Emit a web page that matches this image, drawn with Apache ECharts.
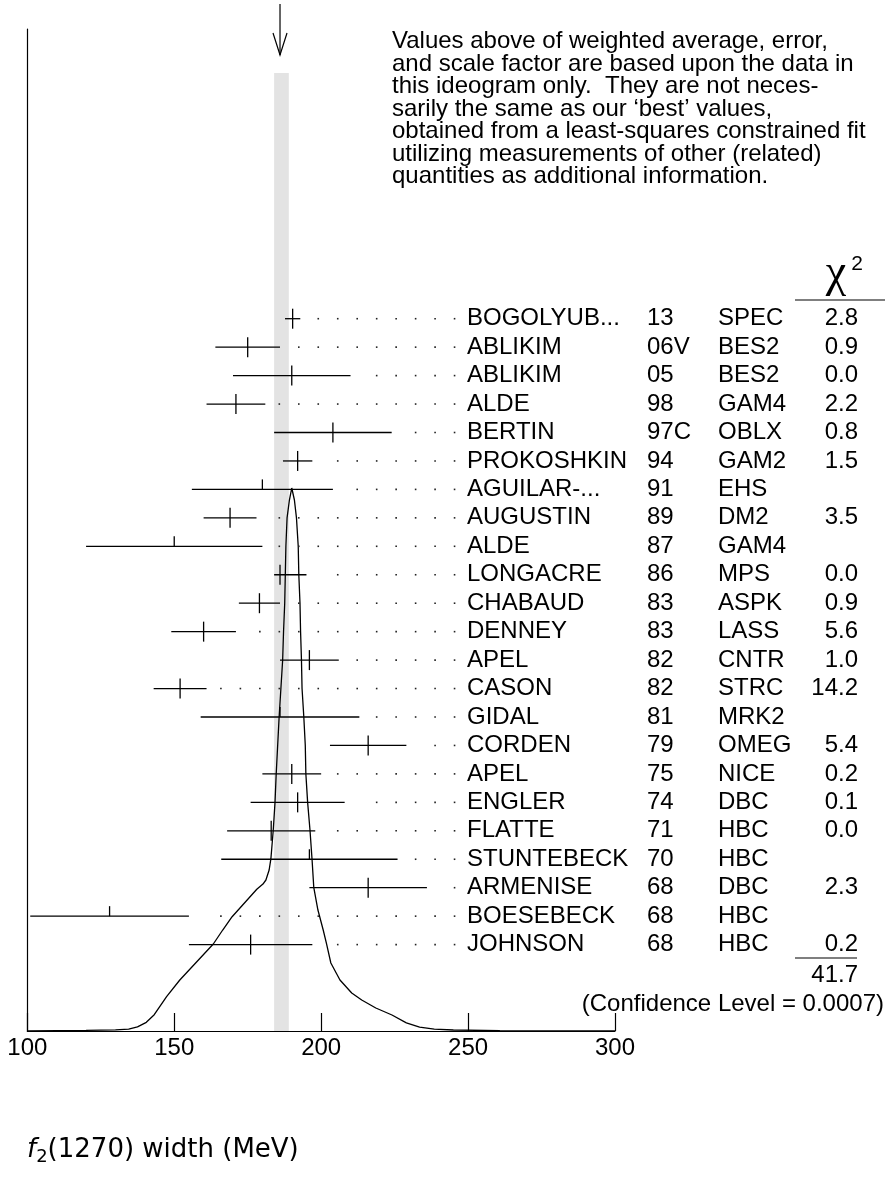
<!DOCTYPE html>
<html>
<head>
<meta charset="utf-8">
<script src="https://cdn.jsdelivr.net/npm/echarts@6/dist/echarts.min.js"></script>
<style>
html,body{margin:0;padding:0;background:#fff;}
#chart{width:886px;height:1184px;}
</style>
</head>
<body>
<div id="chart"></div>
<script>
// ---- data ----
const authors = ['BOGOLYUB...','ABLIKIM','ABLIKIM','ALDE','BERTIN','PROKOSHKIN','AGUILAR-...','AUGUSTIN','ALDE','LONGACRE','CHABAUD','DENNEY','APEL','CASON','GIDAL','CORDEN','APEL','ENGLER','FLATTE','STUNTEBECK','ARMENISE','BOESEBECK','JOHNSON'];
const years = ['13','06V','05','98','97C','94','91','89','87','86','83','83','82','82','81','79','75','74','71','70','68','68','68'];
const techniques = ['SPEC','BES2','BES2','GAM4','OBLX','GAM2','EHS','DM2','GAM4','MPS','ASPK','LASS','CNTR','STRC','MRK2','OMEG','NICE','DBC','HBC','HBC','DBC','HBC','HBC'];
const widths = [190.3, 175, 190, 171, 204, 192, 180, 169, 150, 186, 179, 160, 196, 152, 186, 216, 190, 192, 183, 196, 216, 128, 176];
const errMinus = [2.6, 11, 20, 10, 20, 5, 24, 9, 30, 2, 7, 11, 10, 9, 27, 13, 10, 16, 15, 30, 20, 27, 21];
const errPlus  = [2.6, 11, 20, 10, 20, 5, 24, 9, 30, 9, 7, 11, 10, 9, 27, 13, 10, 16, 15, 30, 20, 27, 21];
const chi2 = ['2.8','0.9','0.0','2.2','0.8','1.5','','3.5','','0.0','0.9','5.6','1.0','14.2','','5.4','0.2','0.1','0.0','','2.3','','0.2'];
const chi2Total = '41.7';
const confidenceLevel = '0.0007';
const weightedAverage = 186.0;
const averageBand = [184.0, 189.0];
const xTicks = [100, 150, 200, 250, 300];
// ideogram curve: [width (MeV), relative height]
const ideogram = [
  [100,0],[110,0.0006],[120,0.0012],[130,0.0022],[134.5,0.0035],[137.5,0.0075],[140.5,0.016],[143.2,0.030],
  [147.4,0.0632],[151.9,0.0939],[163.3,0.1602],[166.5,0.1860],[169.7,0.2105],[178.1,0.2610],[180.2,0.2707],[181.2,0.2781],
  [182.3,0.2965],[182.9,0.3173],[183.7,0.3702],[184.3,0.4210],[184.7,0.4733],[185.2,0.5258],[185.7,0.5783],
  [186.3,0.6306],[186.9,0.6832],[187.2,0.7354],[187.6,0.7878],[187.8,0.8401],[188.0,0.8926],[188.4,0.9449],
  [189.2,0.9779],[190.0,1.0],[190.9,0.9779],[191.6,0.9449],[192.2,0.8926],[192.4,0.8401],[192.8,0.7878],
  [193.0,0.7354],[193.3,0.6832],[193.5,0.6306],[194.1,0.5783],[194.6,0.5258],[194.8,0.4733],[195.4,0.4210],
  [196.2,0.3702],[196.9,0.3162],[197.5,0.2639],[198.9,0.2228],[200.7,0.1860],[201.8,0.1615],[203.3,0.1252],
  [206.4,0.0939],[210.4,0.0700],[213.8,0.0571],[218.6,0.0424],[224.1,0.0295],[229.0,0.0150],[233.5,0.0070],
  [238.5,0.0035],[245.0,0.0018],[260.8,0.0006],[300,0]
];
const noteLines = [
  'Values above of weighted average, error,',
  'and scale factor are based upon the data in',
  'this ideogram only.  They are not neces-',
  'sarily the same as our ‘best’ values,',
  'obtained from a least-squares constrained fit',
  'utilizing measurements of other (related)',
  'quantities as additional information.'
];

// ---- layout ----
const FONT = 'Liberation Sans, Arial, sans-serif';
const BLACK = '#000';
const gridTop = 29, gridBottomPx = 1031;
const rowY0 = 318.7, rowStep = 28.45;
const rowMin = (gridTop - rowY0) / rowStep;
const rowMax = (gridBottomPx - rowY0) / rowStep;
const curveMax = (gridBottomPx - gridTop) / 543;
const dotStart = 245.4, dotStep = 6.626, dotGap = 4.4;
const colYear = 647, colTech = 718, colChi = 858, colName = 467;

const barData = widths.map((v, i) => [v, v - errMinus[i], v + errPlus[i], i, chi2[i] === '' ? 0 : 1]);

function txt(text, x, y, align, size) {
  return { type: 'text', style: { text: text, x: x, y: y, fill: BLACK, fontSize: size || 24, fontFamily: FONT,
    align: align || 'left', verticalAlign: 'middle', textAlign: align || 'left', textVerticalAlign: 'middle' } };
}

function renderBar(params, api) {
  const v = api.value(0), lo = api.value(1), hi = api.value(2), row = api.value(3), used = api.value(4);
  const c = api.coord([v, row]);
  const l = api.coord([lo, row]);
  const h = api.coord([hi, row]);
  const y = c[1];
  const ls = { stroke: BLACK, lineWidth: 1.3 };
  const children = [
    { type: 'line', shape: { x1: l[0], y1: y, x2: h[0], y2: y }, style: ls },
    { type: 'line', shape: { x1: c[0], y1: y - 10, x2: c[0], y2: used ? y + 10 : y }, style: ls }
  ];
  for (let k = 0; ; k++) {
    const d = dotStart - k * dotStep;
    if (d < 100) break;
    if (d - hi <= dotGap) break;
    const p = api.coord([d, row]);
    children.push({ type: 'rect', shape: { x: p[0] - 0.8, y: y - 0.8, width: 1.6, height: 1.6 }, style: { fill: '#222' } });
  }
  const i = row;
  children.push(txt(authors[i], colName, y));
  children.push(txt(years[i], colYear, y));
  children.push(txt(techniques[i], colTech, y));
  if (chi2[i] !== '') children.push(txt(chi2[i], colChi, y, 'right'));
  return { type: 'group', children: children };
}

function renderBand(params, api) {
  const a = api.coord([api.value(0), 0]);
  const b = api.coord([api.value(1), 0]);
  const m = api.coord([api.value(2), 0]);
  const top = params.coordSys.y + 44;
  const bottom = params.coordSys.y + params.coordSys.height;
  const ls = { stroke: BLACK, lineWidth: 1.2 };
  return { type: 'group', children: [
    { type: 'rect', shape: { x: a[0], y: top, width: b[0] - a[0], height: bottom - top }, style: { fill: '#e3e3e3' } },
    { type: 'line', shape: { x1: m[0], y1: 4, x2: m[0], y2: 55 }, style: ls },
    { type: 'polyline', shape: { points: [[m[0] - 7, 33], [m[0], 55], [m[0] + 7, 33]] }, style: { stroke: BLACK, lineWidth: 1.2, fill: null } }
  ] };
}

const chart = echarts.init(document.getElementById('chart'), null, { renderer: 'canvas' });
const option = {
  animation: false,
  backgroundColor: '#fff',
  grid: { left: 27.3, right: 886 - 615, top: gridTop, bottom: 1184 - gridBottomPx },
  xAxis: {
    type: 'value', min: xTicks[0], max: xTicks[xTicks.length - 1], interval: xTicks[1] - xTicks[0],
    axisLine: { show: true, onZero: false, lineStyle: { color: BLACK, width: 1.2 } },
    axisTick: { show: true, inside: true, length: 18, lineStyle: { color: BLACK, width: 1.2 } },
    axisLabel: { color: BLACK, fontSize: 24, fontFamily: FONT, margin: 5, showMinLabel: true, showMaxLabel: true },
    splitLine: { show: false }
  },
  yAxis: [
    { type: 'value', inverse: true, min: rowMin, max: rowMax,
      axisLine: { show: true, onZero: false, lineStyle: { color: BLACK, width: 1.2 } },
      axisTick: { show: false }, axisLabel: { show: false }, splitLine: { show: false } },
    { type: 'value', min: 0, max: curveMax, show: false, splitLine: { show: false } }
  ],
  series: [
    { type: 'custom', name: 'average', renderItem: renderBand, clip: false, z: 1,
      data: [[averageBand[0], averageBand[1], weightedAverage]], xAxisIndex: 0, yAxisIndex: 0 },
    { type: 'line', name: 'ideogram', data: ideogram, yAxisIndex: 1, showSymbol: false, symbol: 'none',
      lineStyle: { color: BLACK, width: 1.3 }, z: 3, silent: true },
    { type: 'custom', name: 'measurements', renderItem: renderBar, clip: false, z: 4,
      data: barData, xAxisIndex: 0, yAxisIndex: 0 }
  ],
  graphic: [
    { type: 'text', x: 392, y: 30.5, style: { text: noteLines.join('\n'), fill: BLACK, fontSize: 24, fontFamily: FONT, lineHeight: 22.5 } },
    { type: 'text', x: 836, y: 274, style: { text: 'χ', fill: BLACK, fontSize: 46, fontFamily: 'Liberation Serif, DejaVu Serif, serif', align: 'center', verticalAlign: 'middle' } },
    { type: 'text', x: 857, y: 264, style: { text: '2', fill: BLACK, fontSize: 21, fontFamily: FONT, align: 'center', verticalAlign: 'middle' } },
    { type: 'line', shape: { x1: 795, y1: 300, x2: 885, y2: 300 }, style: { stroke: BLACK, lineWidth: 1.2 } },
    { type: 'line', shape: { x1: 795, y1: 958, x2: 857, y2: 958 }, style: { stroke: BLACK, lineWidth: 1.2 } },
    { type: 'text', x: colChi, y: 975, style: { text: chi2Total, fill: BLACK, fontSize: 24, fontFamily: FONT, align: 'right', verticalAlign: 'middle' } },
    { type: 'text', x: 884, y: 1004, style: { text: '(Confidence Level = ' + confidenceLevel + ')', fill: BLACK, fontSize: 24, fontFamily: FONT, align: 'right', verticalAlign: 'middle' } },
    { type: 'text', x: 27, y: 1150, style: {
        text: '{i|f}{s|2}{n|(1270) width (MeV)}', verticalAlign: 'middle',
        rich: {
          i: { fontSize: 26, fontStyle: 'italic', fontFamily: 'DejaVu Sans', fill: BLACK },
          s: { fontSize: 18, fontFamily: 'DejaVu Sans', fill: BLACK, verticalAlign: 'bottom', padding: [15, 0, 0, 0] },
          n: { fontSize: 26, fontFamily: 'DejaVu Sans', fill: BLACK }
        } } }
  ]
};
chart.setOption(option);
</script>
</body>
</html>
